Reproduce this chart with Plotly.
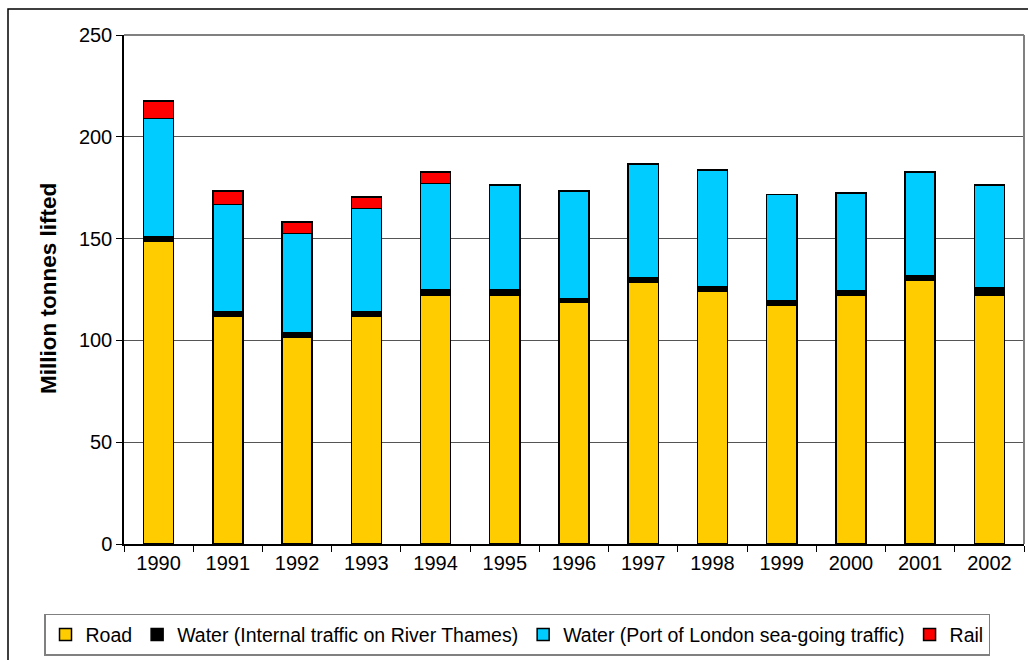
import plotly.graph_objects as go

years = ["1990", "1991", "1992", "1993", "1994", "1995", "1996", "1997", "1998", "1999", "2000", "2001", "2002"]
road = [148.5, 112, 101.5, 112, 122, 122, 118.5, 128.8, 124, 117.5, 122.2, 129.7, 122.2]
water_internal = [2.5, 2, 2.4, 2.2, 3, 3, 2.2, 2.2, 2.5, 2.1, 2.3, 2.3, 3.5]
water_port = [58, 52.7, 48.5, 50.7, 52, 51.3, 52.7, 55.6, 57.2, 52, 48, 50.8, 50.6]
rail = [8.5, 6.8, 5.8, 5.5, 5.7, None, None, None, None, None, None, None, None]

series = [
    ("Road", road, "#FFCC00"),
    ("Water (Internal traffic on River Thames)", water_internal, "#000000"),
    ("Water (Port of London sea-going traffic)", water_port, "#00CCFF"),
    ("Rail", rail, "#FF0000"),
]

FONT = "Liberation Sans, Arial, sans-serif"

fig = go.Figure()
for name, vals, col in series:
    fig.add_trace(go.Bar(
        x=years, y=vals, name=name,
        marker=dict(color=col, line=dict(color="#000000", width=1.5)),
    ))

W, H = 1028, 660
L, R, T, B = 124, 4, 35, 114
pw = W - L - R
ph = H - T - B

def px(x):
    return (x - L) / pw

def py(y):
    return (H - B - y) / ph

fig.update_layout(
    width=W, height=H,
    barmode="stack",
    bargap=0.565,
    margin=dict(l=L, r=R, t=T, b=B),
    paper_bgcolor="white",
    plot_bgcolor="white",
    font=dict(family=FONT, size=20, color="#000000"),
    showlegend=True,
    legend=dict(
        orientation="h",
        x=px(44), xanchor="left",
        y=py(616), yanchor="top",
        bordercolor="#808080", borderwidth=1.5,
        font=dict(family=FONT, size=19.5, color="#000000"),
        itemwidth=30,
        traceorder="normal",
        tracegroupgap=0,
    ),
    xaxis=dict(
        type="category",
        showgrid=False,
        showline=True, linecolor="#000000", linewidth=1.5,
        ticks="outside", tickson="boundaries", ticklen=6, tickcolor="#000000",
        tickfont=dict(family=FONT, size=20, color="#000000"),
    ),
    yaxis=dict(
        range=[0, 250],
        tickvals=[0, 50, 100, 150, 200, 250],
        showgrid=True, gridcolor="#555555", gridwidth=1,
        showline=True, linecolor="#000000", linewidth=1.5,
        ticks="outside", ticklen=6, tickcolor="#000000",
        tickfont=dict(family=FONT, size=20, color="#000000"),
        zeroline=False,
    ),
    shapes=[
        dict(type="line", xref="paper", yref="paper", x0=0, x1=1, y0=1, y1=1,
             line=dict(color="#808080", width=2), layer="above"),
        dict(type="line", xref="paper", yref="paper", x0=1, x1=1, y0=0, y1=1,
             line=dict(color="#808080", width=2), layer="above"),
        dict(type="rect", xref="paper", yref="paper",
             x0=px(8), x1=px(1035), y0=py(9), y1=py(670),
             line=dict(color="#000000", width=1.5), layer="below"),
    ],
    annotations=[
        dict(text="<b>Million tonnes lifted</b>", textangle=-90,
             xref="paper", yref="paper", x=px(48), y=py(290),
             xanchor="center", yanchor="middle", showarrow=False,
             font=dict(family=FONT, size=22.5, color="#000000")),
    ],
)

fig.write_html(
    "out.html",
    config={"displayModeBar": False},
    post_script="document.body.style.margin='0';document.body.style.overflow='hidden';",
)
